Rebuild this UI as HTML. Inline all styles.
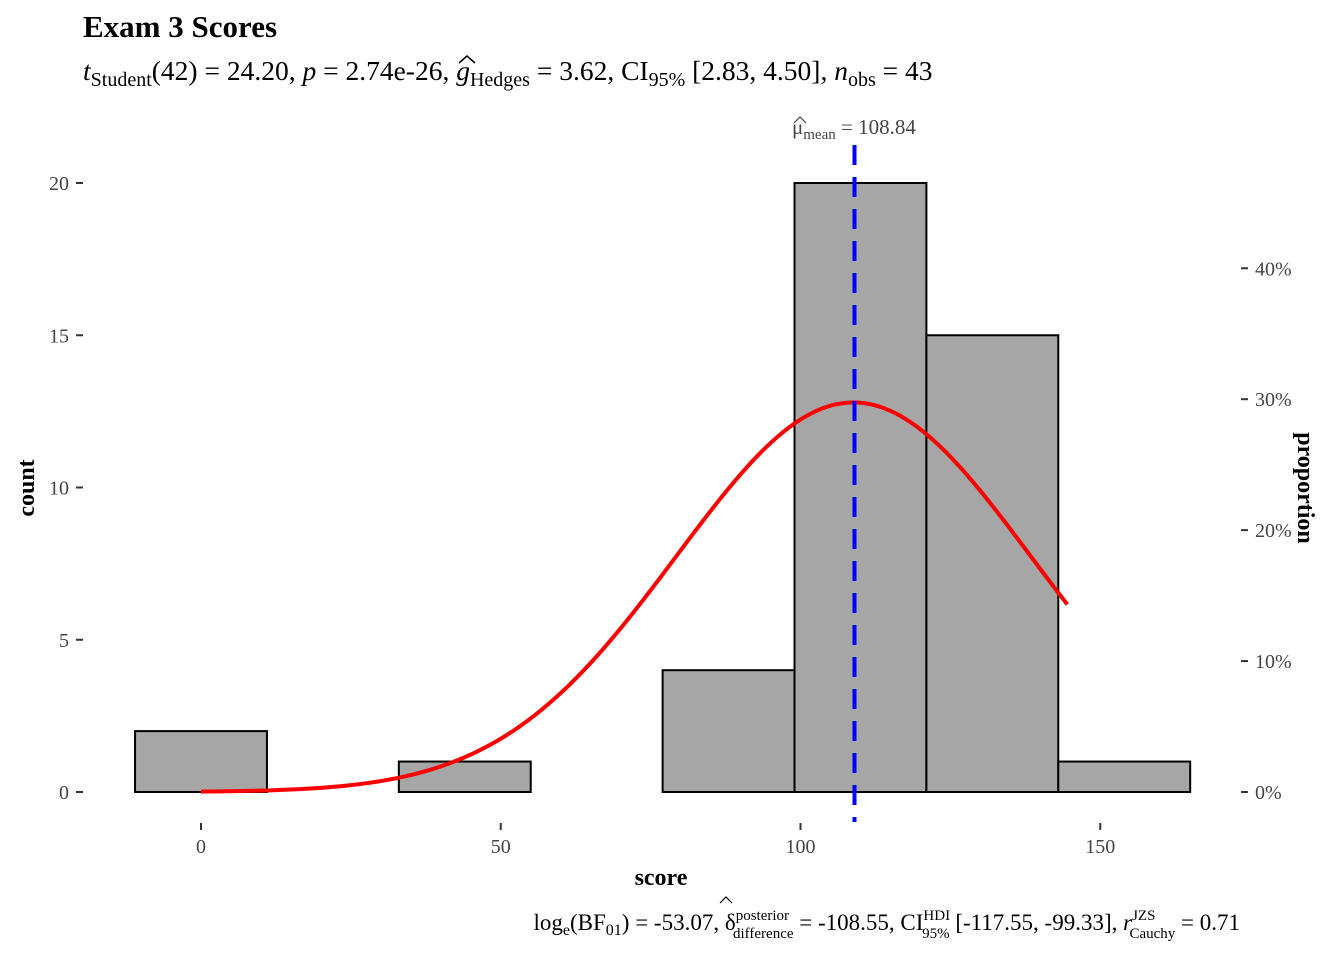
<!DOCTYPE html>
<html><head><meta charset="utf-8"><style>
body{margin:0;background:#fff}
svg text{font-family:"Liberation Serif",serif}
</style></head><body>
<svg width="1344" height="960" xmlns="http://www.w3.org/2000/svg">
<rect width="1344" height="960" fill="#fff"/>
<text x="83" y="37" font-size="31" font-weight="bold">Exam 3 Scores</text>
<text x="83" y="80" font-size="27.5"><tspan font-style="italic">t</tspan><tspan font-size="20" dy="6">Student</tspan><tspan dy="-6">(42) = 24.20, </tspan><tspan font-style="italic">p</tspan><tspan> = 2.74e-26, </tspan><tspan font-style="italic">g</tspan><tspan font-size="20" dy="6">Hedges</tspan><tspan dy="-6"> = 3.62, CI</tspan><tspan font-size="20" dy="6">95%</tspan><tspan dy="-6"> [2.83, 4.50], </tspan><tspan font-style="italic">n</tspan><tspan font-size="20" dy="6">obs</tspan><tspan dy="-6"> = 43</tspan></text>
<path d="M459,63 L467,56 L475,63" fill="none" stroke="#000" stroke-width="1.5"/>
<g id="plot"></g>
<text x="34" y="488" font-size="24" font-weight="bold" transform="rotate(-90 34 488)" text-anchor="middle">count</text>
<text x="1298" y="488" font-size="24" font-weight="bold" transform="rotate(90 1298 488)" text-anchor="middle">proportion</text>
<text x="661" y="885" font-size="24" font-weight="bold" text-anchor="middle">score</text>
<text x="1240" y="930" font-size="23" text-anchor="end">log<tspan font-size="16" dy="5">e</tspan><tspan dy="-5">(BF</tspan><tspan font-size="16" dy="5">01</tspan><tspan dy="-5">) = -53.07, δ</tspan><tspan font-size="15" dy="-10">posterior</tspan><tspan font-size="15" dx="-56" dy="18">difference</tspan><tspan dy="-8"> = -108.55, CI</tspan><tspan font-size="15" dy="-10">HDI</tspan><tspan font-size="15" dx="-28" dy="18">95%</tspan><tspan dy="-8"> [-117.55, -99.33], </tspan><tspan font-style="italic">r</tspan><tspan font-size="15" dy="-10">JZS</tspan><tspan font-size="15" dx="-26" dy="18">Cauchy</tspan><tspan dy="-8"> = 0.71</tspan></text>
<path d="M720,903 L726,897 L732,903" fill="none" stroke="#000" stroke-width="1.2"/>
<text x="792" y="134" font-size="21" fill="#444">μ<tspan font-size="15" dy="5">mean</tspan><tspan dy="-5"> = 108.84</tspan></text>
<path d="M794,123 L800,117 L806,123" fill="none" stroke="#444" stroke-width="1.2"/>
</svg>
<script>
const binCenters=[0,22,44,66,88,110,132,154];
const counts=[2,0,1,0,4,20,15,1];
const binWidth=22;
const nObs=43, meanVal=108.84, sdVal=29.5;
const curveMax=144.5;
const xTicks=[0,50,100,150];
const yTicks=[0,5,10,15,20];
const propTicks=[0,0.1,0.2,0.3,0.4];
const X=v=>201+v*5.995, Y=c=>792-c*30.45;
const NS="http://www.w3.org/2000/svg", g=document.getElementById('plot');
function mk(t,a){const e=document.createElementNS(NS,t);for(const k in a)e.setAttribute(k,a[k]);g.appendChild(e);return e;}
binCenters.forEach((c,i)=>{
 const r=mk('rect',{x:X(c-binWidth/2),y:Y(counts[i]),width:X(c+binWidth/2)-X(c-binWidth/2),height:Y(0)-Y(counts[i]),fill:'#a6a6a6',stroke:'#000','stroke-width':2});
 
 
});
let d='';
for(let v=0;v<=curveMax;v+=0.5){const c=nObs*binWidth/(sdVal*Math.sqrt(2*Math.PI))*Math.exp(-0.5*((v-meanVal)/sdVal)**2);d+=(v?'L':'M')+X(v)+','+Y(c);}
const p=mk('path',{d:d,fill:'none',stroke:'#ff0000','stroke-width':4});


const ml=mk('line',{x1:X(meanVal)+1,x2:X(meanVal)+1,y1:145,y2:822,stroke:'#0000ff','stroke-width':4,'stroke-dasharray':'20,12'});


xTicks.forEach(t=>{
 mk('line',{x1:X(t),x2:X(t),y1:823,y2:830,stroke:'#333','stroke-width':2});
 const e=mk('text',{x:X(t),y:853,'font-size':20,fill:'#444','text-anchor':'middle'});e.textContent=t;
 
 
});
yTicks.forEach(t=>{
 mk('line',{x1:76,x2:83,y1:Y(t),y2:Y(t),stroke:'#333','stroke-width':2});
 const e=mk('text',{x:69,y:Y(t)+7,'font-size':20,fill:'#444','text-anchor':'end'});e.textContent=t;
 
 
});
propTicks.forEach(t=>{
 const y=Y(t*nObs);
 mk('line',{x1:1241,x2:1248,y1:y,y2:y,stroke:'#333','stroke-width':2});
 const e=mk('text',{x:1255,y:y+7,'font-size':20,fill:'#444'});e.textContent=Math.round(t*100)+'%';
 
 
});
</script>
</body></html>
